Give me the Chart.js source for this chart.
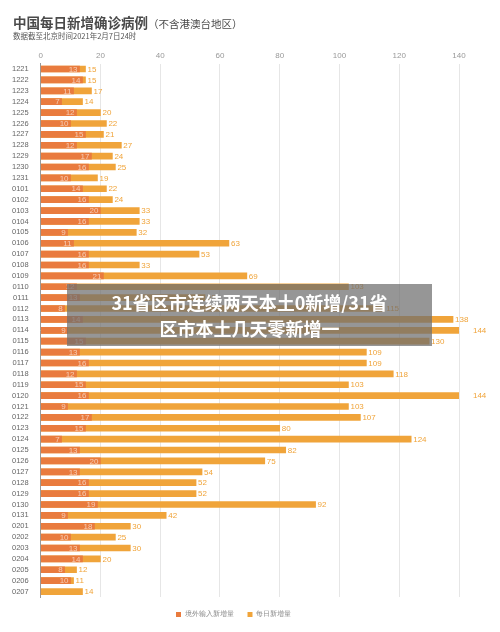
<!DOCTYPE html>
<html><head><meta charset="utf-8">
<script src="https://cdn.jsdelivr.net/npm/chart.js@4"></script>
<style>
html,body{margin:0;padding:0;background:#fff;font-family:"Noto Sans CJK SC","Noto Sans",sans-serif;}
#wrap{position:relative;width:500px;height:632px;}
canvas{position:absolute;left:0;top:0;}
#t1{position:absolute;left:13px;top:12px;font-size:13.5px;font-weight:bold;color:#4a4a4a;white-space:nowrap;}
#t1 span{font-size:10.5px;font-weight:normal;}
#t2{position:absolute;left:13px;top:30px;font-size:7.5px;color:#555;white-space:nowrap;}
#ov{position:absolute;left:67px;top:284px;width:365px;height:62px;background:rgba(110,110,110,0.72);color:#fff;font-weight:bold;font-size:18px;line-height:26px;text-align:center;padding-top:5px;box-sizing:border-box;}
</style></head><body>
<div id="wrap">
<canvas id="c" width="500" height="632"></canvas>
<div id="t1">中国每日新增确诊病例<span>（不含港澳台地区）</span></div>
<div id="t2">数据截至北京时间2021年2月7日24时</div>
<div id="ov">31省区市连续两天本土0新增/31省<br>区市本土几天零新增一</div>
</div>
<script>
const categories=['1221','1222','1223','1224','1225','1226','1227','1228','1229','1230','1231',
'0101','0102','0103','0104','0105','0106','0107','0108','0109','0110','0111','0112','0113','0114','0115','0116','0117','0118','0119','0120','0121','0122','0123','0124','0125','0126','0127','0128','0129','0130','0131',
'0201','0202','0203','0204','0205','0206','0207'];
const dailyNew=[15,15,17,14,20,22,21,27,24,25,19,
22,24,33,33,32,63,53,33,69,103,55,115,138,144,130,109,109,118,103,144,103,107,80,124,82,75,54,52,52,92,42,
30,25,30,20,12,11,14];
const imported=[13,14,11,7,12,10,15,12,17,16,10,
14,16,20,16,9,11,16,16,21,12,13,8,14,9,15,13,16,12,15,16,9,17,15,7,13,20,13,16,16,19,9,
18,10,13,14,8,10,0];
const xTicks=[0,20,40,60,80,100,120,140];
const C1='#F0A43A',C2='#E97B3E';
const labels={id:'labels',afterDatasetsDraw(ch){
  const ctx=ch.ctx;ctx.save();ctx.font='8px "Liberation Sans",sans-serif';ctx.textBaseline='middle';
  const m0=ch.getDatasetMeta(0),m1=ch.getDatasetMeta(1);
  m0.data.forEach((b,i)=>{ctx.fillStyle=C1;ctx.textAlign='left';ctx.fillText(dailyNew[i],b.x+2,b.y+0.5);});
  m1.data.forEach((b,i)=>{if(!imported[i])return;ctx.fillStyle='rgba(255,255,255,0.6)';ctx.textAlign='right';ctx.fillText(imported[i],b.x-2,b.y+0.5);});
  ctx.restore();}};
new Chart(document.getElementById('c'),{type:'bar',
data:{labels:categories,datasets:[
 {label:'每日新增量',data:dailyNew,backgroundColor:C1,order:1,grouped:false,barThickness:6},
 {label:'境外输入新增量',data:imported,backgroundColor:C2,order:0,grouped:false,barThickness:6}]},
options:{indexAxis:'y',responsive:false,animation:false,
 layout:{padding:{top:48,left:8,right:41,bottom:4}},
 scales:{x:{position:'top',min:0,max:140,afterBuildTicks(a){a.ticks=xTicks.map(v=>({value:v}));},
   ticks:{color:'#999',font:{size:8}},grid:{color:'#e6e6e6',drawTicks:false},border:{display:false}},
  y:{grid:{display:false},ticks:{color:'#666',font:{size:7.5},autoSkip:false,padding:4},border:{color:'#999'}}},
 plugins:{legend:{position:'bottom',labels:{boxWidth:5,boxHeight:5,color:'#888',font:{size:7},padding:14}},tooltip:{enabled:false}}},
plugins:[labels]});
</script></body></html>
